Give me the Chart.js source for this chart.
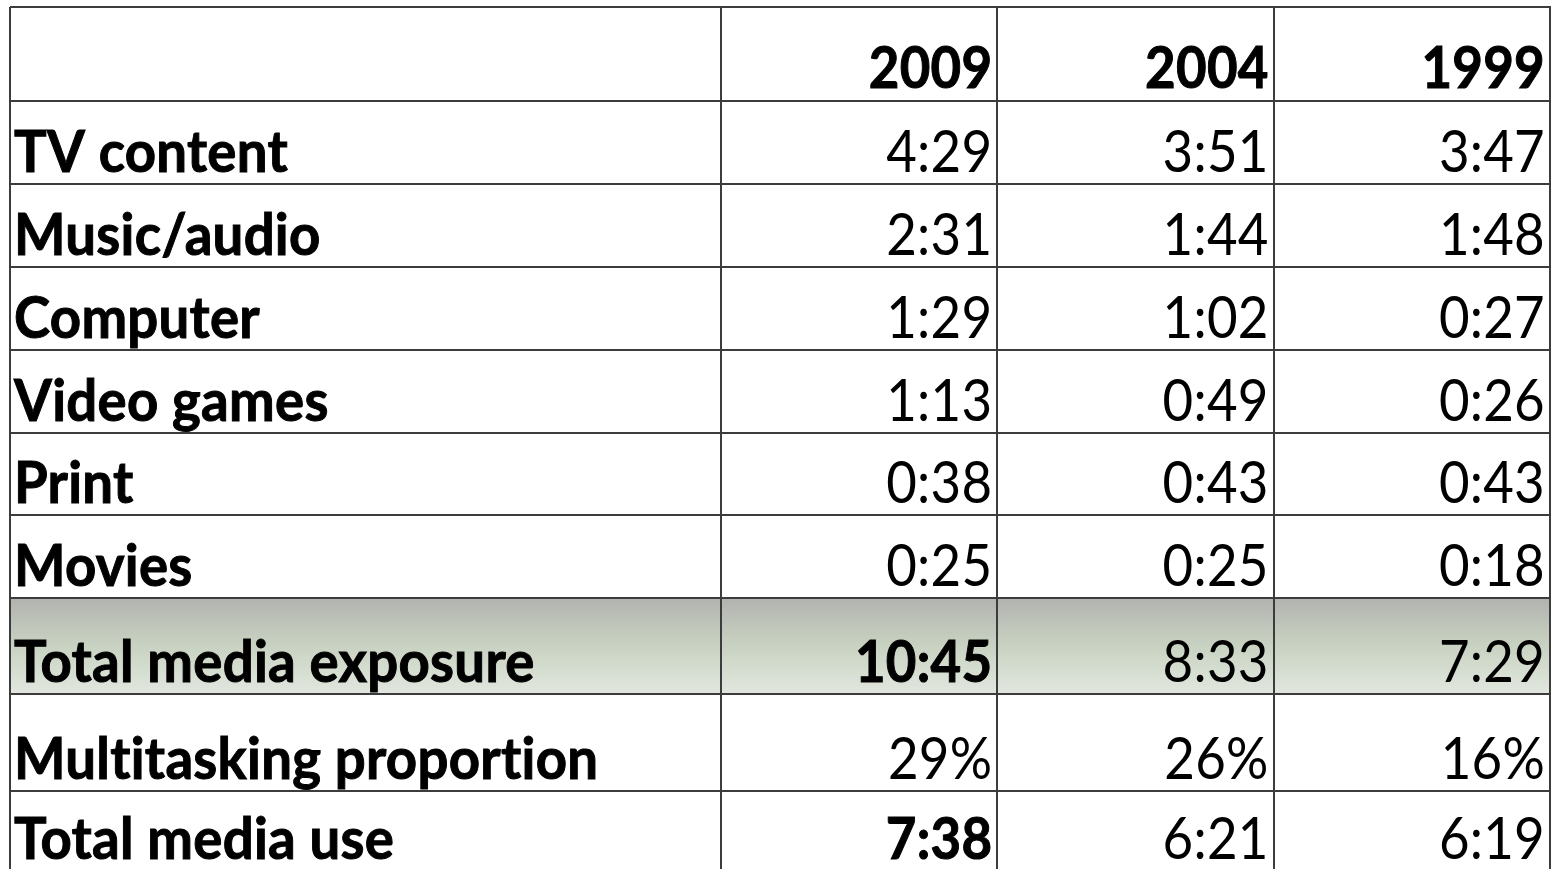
<!DOCTYPE html>
<html>
<head>
<meta charset="utf-8">
<script src="https://cdn.jsdelivr.net/npm/chart.js@4.4.1/dist/chart.umd.min.js"></script>
<style>
  html, body { margin: 0; padding: 0; overflow: hidden; background: #fff; }
  canvas { display: block; }
</style>
</head>
<body>
<canvas id="tabela" width="1555" height="871"></canvas>
<script>
/* ---------- dados ---------- */
const linhas = ['TV content', 'Music/audio', 'Computer', 'Video games', 'Print', 'Movies',
  'Total media exposure', 'Multitasking proportion', 'Total media use'];
const anos = ['2009', '2004', '1999'];
const valores2009 = ['4:29', '2:31', '1:29', '1:13', '0:38', '0:25', '10:45', '29%', '7:38'];
const valores2004 = ['3:51', '1:44', '1:02', '0:49', '0:43', '0:25', '8:33', '26%', '6:21'];
const valores1999 = ['3:47', '1:48', '0:27', '0:26', '0:43', '0:18', '7:29', '16%', '6:19'];

/* ---------- layout / estilo ---------- */
const pesoLinhas = [1, 1, 1, 1, 1, 1, 1.16, 1.16, 0.97];
const linhaDestaque = 6;              // linha com fundo em degradê
const negrito2009 = [6, 8];           // células em negrito na coluna 2009
const corLinha = '#3c3c3c';
const fonte = 'Lato';
const tamFonte = 58;
const escalaRotulo = 0.94;            // rótulos da 1ª coluna
const escalaValor = 0.91;             // números (fonte estreita tipo Calibri)

const limites = [0];
pesoLinhas.forEach(p => limites.push(limites[limites.length - 1] + p));
const total = limites[limites.length - 1];
const colunas = [valores2009, valores2004, valores1999];

function texto(ctx, t, x, y, bold, align, sx) {
  ctx.save();
  ctx.font = `${bold ? 'bold ' : ''}${tamFonte}px ${fonte}`;
  ctx.letterSpacing = '0.3px';   // evita ligaduras (ti)
  ctx.textAlign = align;
  ctx.textBaseline = 'alphabetic';
  ctx.fillStyle = '#000';
  ctx.translate(x, y);
  ctx.scale(sx, 1);
  ctx.fillText(t, 0, 0);
  if (bold) {
    ctx.strokeStyle = '#000';
    ctx.lineWidth = 1;
    ctx.strokeText(t, 0, 0);
  }
  ctx.restore();
}

const pluginTabela = {
  id: 'tabela',
  beforeDraw(chart) {
    const { ctx, scales: { x, y } } = chart;
    const topo = y.getPixelForValue(limites[linhaDestaque]);
    const base = y.getPixelForValue(limites[linhaDestaque + 1]);
    const g = ctx.createLinearGradient(0, topo, 0, base);
    g.addColorStop(0, '#b2b3b0');
    g.addColorStop(0.5, '#c9d3c2');
    g.addColorStop(1, '#e2e7df');
    ctx.save();
    ctx.fillStyle = g;
    ctx.fillRect(y.left, topo, x.right - y.left, base - topo);
    ctx.restore();
  },
  afterDraw(chart) {
    const { ctx, scales: { x, y } } = chart;
    // moldura externa (topo e esquerda)
    ctx.save();
    ctx.strokeStyle = corLinha;
    ctx.lineWidth = 2;
    ctx.beginPath();
    ctx.moveTo(y.left, x.top);
    ctx.lineTo(x.right + 1, x.top);
    ctx.moveTo(y.left, x.top);
    ctx.lineTo(y.left, y.bottom);
    ctx.stroke();
    ctx.restore();

    const meia = (x.getPixelForValue(1) - x.getPixelForValue(0)) / 2;

    // cabeçalho
    anos.forEach((a, j) => {
      texto(ctx, a, x.getPixelForValue(j) + meia - 5, x.bottom - 13, true, 'right', escalaValor);
    });

    // linhas
    linhas.forEach((l, i) => {
      const yb = y.getPixelForValue(limites[i + 1]) - 12;
      texto(ctx, l, y.left + 4, yb, true, 'left', escalaRotulo);
      colunas.forEach((col, j) => {
        const bold = j === 0 && negrito2009.includes(i);
        texto(ctx, col[i], x.getPixelForValue(j) + meia - 5, yb, bold, 'right', escalaValor);
      });
    });
  }
};

new Chart(document.getElementById('tabela'), {
  type: 'bar',
  data: { labels: anos, datasets: [] },
  options: {
    responsive: false,
    animation: false,
    devicePixelRatio: 1,
    layout: { padding: { top: 7, left: 10, right: 5, bottom: 0 } },
    plugins: { legend: { display: false }, tooltip: { enabled: false } },
    scales: {
      x: {
        type: 'category',
        position: 'top',
        offset: true,
        ticks: { display: false },
        grid: { offset: true, color: corLinha, lineWidth: 2, tickLength: 94 },
        border: { display: false },
        afterFit: s => { s.height = 94; }
      },
      y: {
        type: 'linear',
        reverse: true,
        min: 0,
        max: total,
        ticks: { display: false },
        grid: { color: corLinha, lineWidth: 2, tickLength: 711 },
        border: { display: false },
        afterBuildTicks: s => { s.ticks = limites.map(v => ({ value: v })); },
        afterFit: s => { s.width = 711; }
      }
    }
  },
  plugins: [pluginTabela]
});
</script>
</body>
</html>
